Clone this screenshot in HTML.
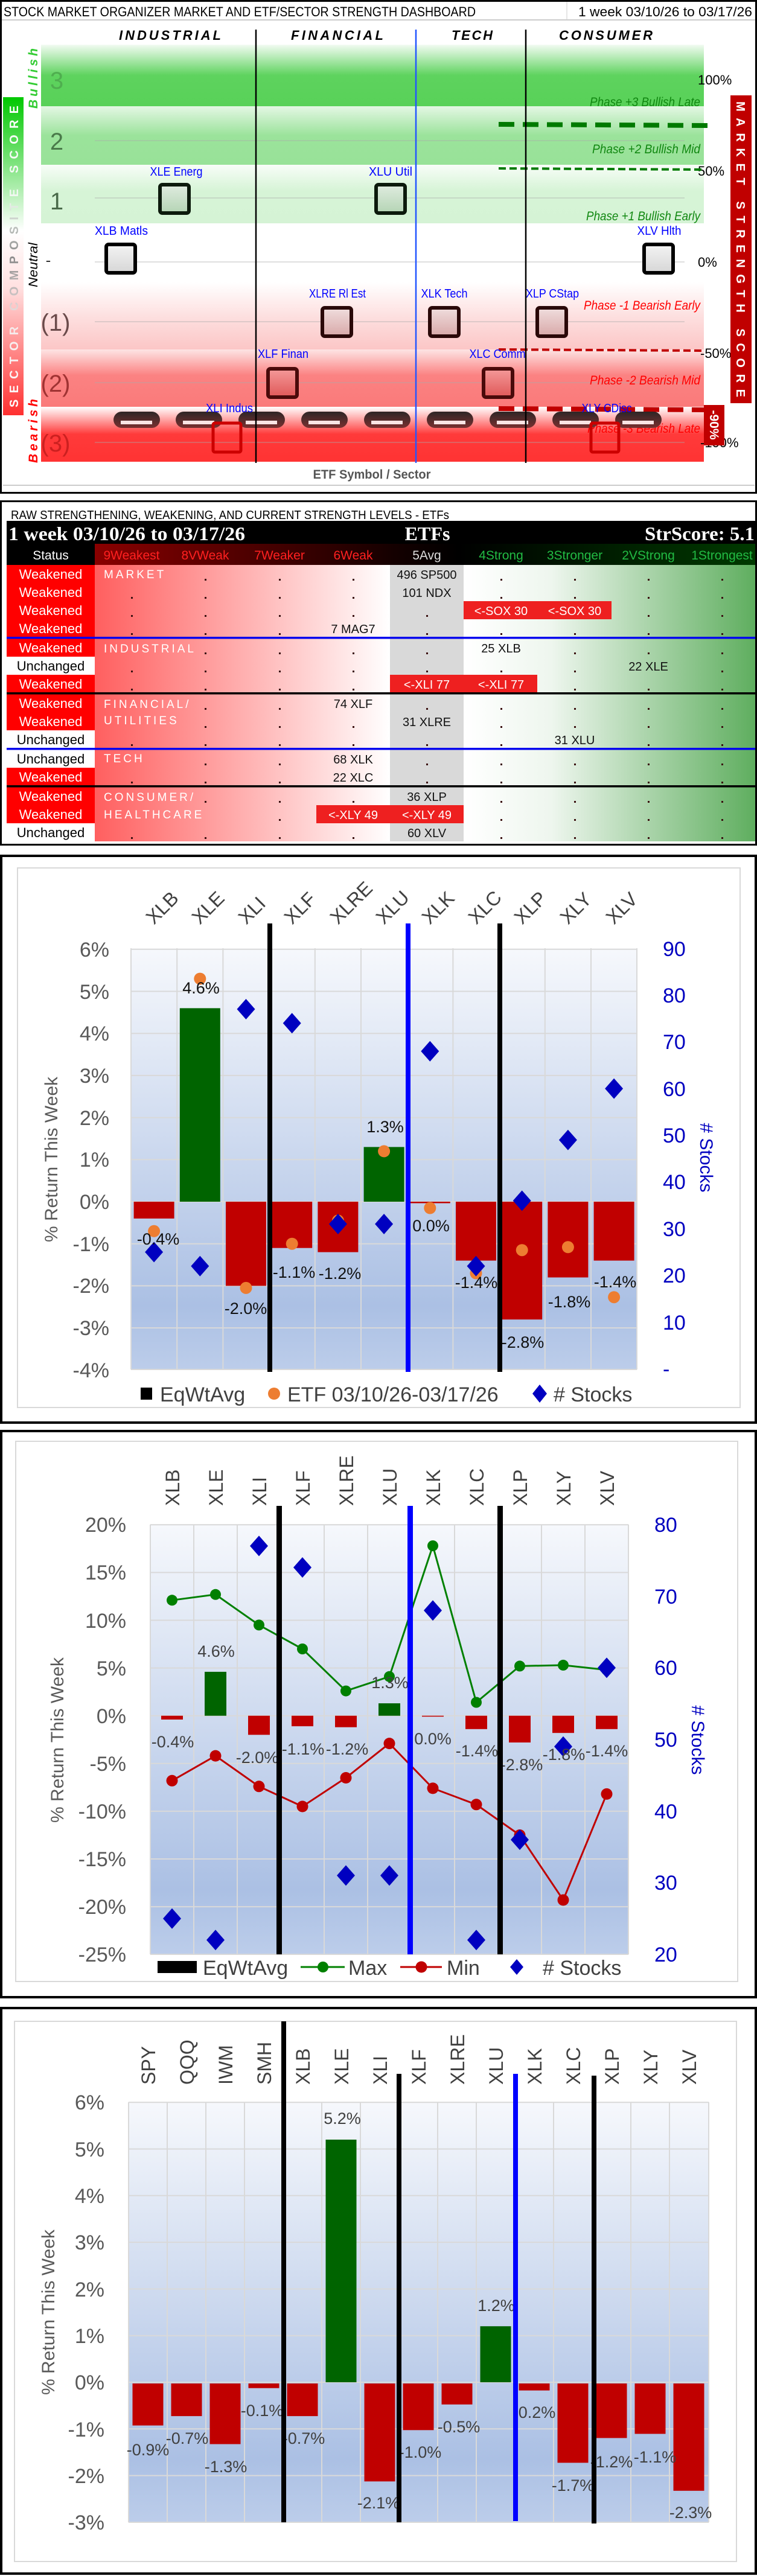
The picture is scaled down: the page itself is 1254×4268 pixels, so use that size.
<!DOCTYPE html>
<html><head><meta charset="utf-8"><style>
html,body{margin:0;padding:0;background:#fff;}
svg{display:block;font-family:"Liberation Sans",sans-serif;}
</style></head><body>
<svg width="1254" height="4268" viewBox="0 0 1254 4268" xmlns="http://www.w3.org/2000/svg">
<defs>
<linearGradient id="b3" x1="0" y1="0" x2="0" y2="1"><stop offset="0" stop-color="#f2fbf2"/><stop offset="0.5" stop-color="#5ed35e"/><stop offset="1" stop-color="#58d158"/></linearGradient>
<linearGradient id="b2" x1="0" y1="0" x2="0" y2="1"><stop offset="0" stop-color="#e4f7e4"/><stop offset="0.5" stop-color="#9be39b"/><stop offset="1" stop-color="#98e298"/></linearGradient>
<linearGradient id="b1" x1="0" y1="0" x2="0" y2="1"><stop offset="0" stop-color="#f8fdf8"/><stop offset="0.45" stop-color="#d6f4d6"/><stop offset="1" stop-color="#d5f3d5"/></linearGradient>
<linearGradient id="r1" x1="0" y1="0" x2="0" y2="1"><stop offset="0" stop-color="#ffffff"/><stop offset="0.5" stop-color="#fde0e0"/><stop offset="1" stop-color="#fcc6c6"/></linearGradient>
<linearGradient id="r2" x1="0" y1="0" x2="0" y2="1"><stop offset="0" stop-color="#fde4e4"/><stop offset="0.45" stop-color="#fb8282"/><stop offset="1" stop-color="#fa7a7a"/></linearGradient>
<linearGradient id="r3" x1="0" y1="0" x2="0" y2="1"><stop offset="0" stop-color="#ffffff"/><stop offset="0.5" stop-color="#ff3a3a"/><stop offset="1" stop-color="#ff3333"/></linearGradient>
<linearGradient id="lbar" x1="0" y1="0" x2="0" y2="1"><stop offset="0" stop-color="#00c800"/><stop offset="0.42" stop-color="#ffffff"/><stop offset="0.6" stop-color="#ffe0e0"/><stop offset="1" stop-color="#ff3030"/></linearGradient>
<linearGradient id="ltxt" gradientUnits="userSpaceOnUse" x1="-263" y1="0" x2="263" y2="0"><stop offset="0" stop-color="#ffffff"/><stop offset="0.3" stop-color="#f4e8e8"/><stop offset="0.5" stop-color="#8a8a8a"/><stop offset="0.68" stop-color="#f0f8f0"/><stop offset="1" stop-color="#ffffff"/></linearGradient>
<linearGradient id="bxg" x1="0" y1="0" x2="0" y2="1"><stop offset="0" stop-color="#e0ece0"/><stop offset="1" stop-color="#b4d4b4"/></linearGradient>
<linearGradient id="bxn" x1="0" y1="0" x2="0" y2="1"><stop offset="0" stop-color="#f4f4f4"/><stop offset="1" stop-color="#d6d6d6"/></linearGradient>
<linearGradient id="bxr" x1="0" y1="0" x2="0" y2="1"><stop offset="0" stop-color="#f0dede"/><stop offset="1" stop-color="#d8a8a8"/></linearGradient>
<linearGradient id="bxr2" x1="0" y1="0" x2="0" y2="1"><stop offset="0" stop-color="#f49a9a"/><stop offset="1" stop-color="#e05858"/></linearGradient>
<linearGradient id="pill" x1="0" y1="0" x2="0" y2="1"><stop offset="0" stop-color="#2e2626"/><stop offset="1" stop-color="#7a3030"/></linearGradient>
<linearGradient id="tred" x1="0" y1="0" x2="1" y2="0"><stop offset="0" stop-color="#ff5f5f"/><stop offset="1" stop-color="#ffffff"/></linearGradient>
<linearGradient id="tgrn" x1="0" y1="0" x2="1" y2="0"><stop offset="0" stop-color="#ffffff"/><stop offset="0.3" stop-color="#eef6ee"/><stop offset="1" stop-color="#5fae5f"/></linearGradient>
<linearGradient id="thd" x1="0" y1="0" x2="1" y2="0"><stop offset="0" stop-color="#8a0000"/><stop offset="0.45" stop-color="#150000"/><stop offset="0.55" stop-color="#000000"/><stop offset="1" stop-color="#003a00"/></linearGradient>
<linearGradient id="plot" x1="0" y1="0" x2="0" y2="1"><stop offset="0" stop-color="#f6f8fc"/><stop offset="0.85" stop-color="#abc0e4"/><stop offset="1" stop-color="#bccdea"/></linearGradient>
</defs>

<!-- ================= PANEL 1 ================= -->
<rect x="1.5" y="1.5" width="1251" height="815" fill="#fff" stroke="#000" stroke-width="3"/>
<line x1="3" y1="33" x2="1251" y2="33" stroke="#bbb" stroke-width="1.5"/>
<line x1="939" y1="3" x2="939" y2="33" stroke="#ccc"/>
<text x="6" y="27" font-size="22" textLength="782" lengthAdjust="spacingAndGlyphs" fill="#000">STOCK MARKET ORGANIZER MARKET AND ETF/SECTOR STRENGTH DASHBOARD</text>
<text x="958" y="27" font-size="22" textLength="288" lengthAdjust="spacingAndGlyphs" fill="#000">1 week 03/10/26 to 03/17/26</text>

<rect x="68" y="74" width="1098" height="102" fill="url(#b3)"/>
<rect x="68" y="176" width="1098" height="97" fill="url(#b2)"/>
<rect x="68" y="273" width="1098" height="97" fill="url(#b1)"/>
<rect x="68" y="468" width="1098" height="111" fill="url(#r1)"/>
<rect x="68" y="579" width="1098" height="95" fill="url(#r2)"/>
<rect x="68" y="674" width="1098" height="91" fill="url(#r3)"/>
<g stroke="#aaa" stroke-width="1.2" opacity="0.6">
<line x1="157" y1="233" x2="1134" y2="233"/><line x1="157" y1="328" x2="1134" y2="328"/><line x1="157" y1="434" x2="1134" y2="434"/><line x1="157" y1="533" x2="1134" y2="533"/><line x1="157" y1="634" x2="1134" y2="634"/><line x1="157" y1="733" x2="1134" y2="733"/>
</g>
<g font-size="40" text-anchor="middle">
<text x="94" y="147" fill="#4fae4f">3</text>
<text x="94" y="248" fill="#4a7a4a">2</text>
<text x="94" y="347" fill="#4a6a4a">1</text>
<text x="80" y="440" fill="#333" font-size="26">-</text>
<text x="92" y="548" fill="#6a4a4a">(1)</text>
<text x="92" y="649" fill="#a03333">(2)</text>
<text x="92" y="748" fill="#cc2020">(3)</text>
</g>
<g font-size="22" fill="#000">
<text x="1156" y="140">100%</text><text x="1156" y="291">50%</text><text x="1156" y="442">0%</text><text x="1160" y="593">-50%</text><text x="1160" y="741">-100%</text>
</g>
<g font-size="21" font-style="italic" text-anchor="end">
<text x="1160" y="176" fill="#118811" textLength="183" lengthAdjust="spacingAndGlyphs">Phase +3 Bullish Late</text>
<text x="1160" y="254" fill="#118811" textLength="179" lengthAdjust="spacingAndGlyphs">Phase +2 Bullish Mid</text>
<text x="1160" y="365" fill="#118811" textLength="189" lengthAdjust="spacingAndGlyphs">Phase +1 Bullish Early</text>
<text x="1160" y="513" fill="#ff0000" textLength="193" lengthAdjust="spacingAndGlyphs">Phase -1 Bearish Early</text>
<text x="1160" y="637" fill="#ff0000" textLength="183" lengthAdjust="spacingAndGlyphs">Phase -2 Bearish Mid</text>
<text x="1160" y="717" fill="#ff0000" textLength="187" lengthAdjust="spacingAndGlyphs">Phase -3 Bearish Late</text>
</g>
<line x1="826" y1="206" x2="1176" y2="208" stroke="#007a00" stroke-width="8" stroke-dasharray="26 14"/>
<line x1="826" y1="279" x2="1166" y2="281" stroke="#007a00" stroke-width="4" stroke-dasharray="12 6"/>
<line x1="826" y1="579" x2="1166" y2="581" stroke="#c00000" stroke-width="4" stroke-dasharray="12 6"/>
<line x1="826" y1="677" x2="1166" y2="679" stroke="#c00000" stroke-width="8" stroke-dasharray="26 14"/>

<g font-size="22" font-weight="bold" font-style="italic" fill="#000">
<text x="197" y="66" textLength="169" lengthAdjust="spacing">INDUSTRIAL</text>
<text x="482" y="66" textLength="153" lengthAdjust="spacing">FINANCIAL</text>
<text x="748" y="66" textLength="68" lengthAdjust="spacing">TECH</text>
<text x="926" y="66" textLength="155" lengthAdjust="spacing">CONSUMER</text>
</g>

<g>
<rect x="188" y="682" width="77" height="27" rx="13.5" fill="url(#pill)"/><rect x="200" y="697" width="52" height="6" fill="#fbe4e4"/>
<rect x="291" y="682" width="77" height="27" rx="13.5" fill="url(#pill)"/><rect x="303" y="697" width="52" height="6" fill="#fbe4e4"/>
<rect x="395" y="682" width="77" height="27" rx="13.5" fill="url(#pill)"/><rect x="407" y="697" width="52" height="6" fill="#fbe4e4"/>
<rect x="499" y="682" width="77" height="27" rx="13.5" fill="url(#pill)"/><rect x="511" y="697" width="52" height="6" fill="#fbe4e4"/>
<rect x="603" y="682" width="77" height="27" rx="13.5" fill="url(#pill)"/><rect x="615" y="697" width="52" height="6" fill="#fbe4e4"/>
<rect x="707" y="682" width="77" height="27" rx="13.5" fill="url(#pill)"/><rect x="719" y="697" width="52" height="6" fill="#fbe4e4"/>
<rect x="811" y="682" width="77" height="27" rx="13.5" fill="url(#pill)"/><rect x="823" y="697" width="52" height="6" fill="#fbe4e4"/>
<rect x="915" y="682" width="77" height="27" rx="13.5" fill="url(#pill)"/><rect x="927" y="697" width="52" height="6" fill="#fbe4e4"/>
<rect x="1019" y="682" width="77" height="27" rx="13.5" fill="url(#pill)"/><rect x="1031" y="697" width="52" height="6" fill="#fbe4e4"/>
</g>

<g stroke-width="6">
<rect x="265" y="306" width="48" height="47" rx="4" fill="url(#bxg)" stroke="#0c1a0c"/>
<rect x="623" y="306" width="48" height="47" rx="4" fill="url(#bxg)" stroke="#0c1a0c"/>
<rect x="176" y="405" width="48" height="47" rx="4" fill="url(#bxn)" stroke="#000"/>
<rect x="1067" y="405" width="48" height="47" rx="4" fill="url(#bxn)" stroke="#000"/>
<rect x="534" y="510" width="48" height="47" rx="4" fill="url(#bxr)" stroke="#2a0808"/>
<rect x="712" y="510" width="48" height="47" rx="4" fill="url(#bxr)" stroke="#2a0808"/>
<rect x="890" y="510" width="48" height="47" rx="4" fill="url(#bxr)" stroke="#2a0808"/>
<rect x="444" y="611" width="48" height="47" rx="4" fill="url(#bxr2)" stroke="#4a0a0a"/>
<rect x="801" y="611" width="48" height="47" rx="4" fill="url(#bxr2)" stroke="#4a0a0a"/>
<rect x="353" y="701" width="46" height="48" rx="3" fill="none" stroke="#cc0000" stroke-width="5"/>
<rect x="979" y="701" width="46" height="48" rx="3" fill="none" stroke="#cc0000" stroke-width="5"/>
</g>
<g font-size="20" fill="#0000ff" text-anchor="middle">
<text x="292" y="291" textLength="87" lengthAdjust="spacingAndGlyphs">XLE Energ</text>
<text x="647" y="291" textLength="72" lengthAdjust="spacingAndGlyphs">XLU Util</text>
<text x="201" y="389" textLength="88" lengthAdjust="spacingAndGlyphs">XLB Matls</text>
<text x="1092" y="389" textLength="73" lengthAdjust="spacingAndGlyphs">XLV Hlth</text>
<text x="559" y="493" textLength="94" lengthAdjust="spacingAndGlyphs">XLRE Rl Est</text>
<text x="736" y="493" textLength="77" lengthAdjust="spacingAndGlyphs">XLK Tech</text>
<text x="915" y="493" textLength="88" lengthAdjust="spacingAndGlyphs">XLP CStap</text>
<text x="469" y="593" textLength="84" lengthAdjust="spacingAndGlyphs">XLF Finan</text>
<text x="824" y="593" textLength="93" lengthAdjust="spacingAndGlyphs">XLC Comm</text>
<text x="380" y="683" textLength="78" lengthAdjust="spacingAndGlyphs">XLI Indus</text>
<text x="1005" y="683" textLength="83" lengthAdjust="spacingAndGlyphs">XLY CDisc</text>
</g>
<line x1="424" y1="49" x2="424" y2="767" stroke="#000" stroke-width="2.5"/>
<line x1="689" y1="49" x2="689" y2="767" stroke="#2255ff" stroke-width="2.5"/>
<line x1="871" y1="49" x2="871" y2="767" stroke="#000" stroke-width="2.5"/>

<rect x="5" y="161" width="34" height="527" fill="url(#lbar)"/>
<text transform="translate(30,425) rotate(-90)" text-anchor="middle" font-size="20" font-weight="bold" fill="url(#ltxt)" textLength="500" lengthAdjust="spacing">SECTOR COMPOSITE SCORE</text>
<text transform="translate(62,130) rotate(-90)" text-anchor="middle" font-size="21" font-weight="bold" font-style="italic" fill="#33cc33" textLength="100" lengthAdjust="spacing">Bullish</text>
<text transform="translate(62,439) rotate(-90)" text-anchor="middle" font-size="21" font-style="italic" fill="#000" textLength="74" lengthAdjust="spacingAndGlyphs">Neutral</text>
<text transform="translate(62,714) rotate(-90)" text-anchor="middle" font-size="21" font-weight="bold" font-style="italic" fill="#ff0000" textLength="106" lengthAdjust="spacing">Bearish</text>
<rect x="1210" y="158" width="35" height="510" fill="#c00000"/>
<text transform="translate(1220,413) rotate(90)" text-anchor="middle" font-size="20" font-weight="bold" fill="#fff" textLength="490" lengthAdjust="spacing">MARKET STRENGTH SCORE</text>
<rect x="1166" y="671" width="34" height="67" fill="#c00000"/>
<text transform="translate(1176,704) rotate(90)" text-anchor="middle" font-size="21" font-weight="bold" fill="#fff">-90%</text>
<text x="616" y="793" text-anchor="middle" font-size="21" font-weight="bold" fill="#555" textLength="195" lengthAdjust="spacingAndGlyphs">ETF Symbol / Sector</text>
<line x1="5" y1="804" x2="1250" y2="804" stroke="#ccc" stroke-width="2"/>

<!-- ================= PANEL 2 ================= -->
<rect x="1.5" y="830.5" width="1251" height="569" fill="#fff" stroke="#000" stroke-width="3"/>
<text x="18" y="860" font-size="20" textLength="726" lengthAdjust="spacingAndGlyphs" fill="#000">RAW STRENGTHENING, WEAKENING, AND CURRENT STRENGTH LEVELS - ETFs</text>
<rect x="11" y="863" width="1240" height="73" fill="#000"/>
<rect x="157" y="901" width="1094" height="35" fill="url(#thd)"/>
<g font-family="Liberation Serif,serif" font-weight="bold" font-size="32" fill="#fff">
<text x="14" y="895" textLength="392" lengthAdjust="spacingAndGlyphs">1 week 03/10/26 to 03/17/26</text>
<text x="708" y="895" text-anchor="middle" textLength="75" lengthAdjust="spacingAndGlyphs">ETFs</text>
<text x="1250" y="895" text-anchor="end" textLength="182" lengthAdjust="spacingAndGlyphs">StrScore: 5.1</text>
</g>
<g font-size="21" text-anchor="middle">
<text x="84" y="927" fill="#fff">Status</text>
<text x="218" y="927" fill="#ff2020">9Weakest</text>
<text x="340" y="927" fill="#ff2020">8VWeak</text>
<text x="463" y="927" fill="#ff2020">7Weaker</text>
<text x="585" y="927" fill="#ff2020">6Weak</text>
<text x="707" y="927" fill="#ddd">5Avg</text>
<text x="830" y="927" fill="#22bb44">4Strong</text>
<text x="952" y="927" fill="#22bb44">3Stronger</text>
<text x="1074" y="927" fill="#22bb44">2VStrong</text>
<text x="1196" y="927" fill="#22bb44">1Strongest</text>
</g>
<rect x="157" y="936" width="489" height="458" fill="url(#tred)"/>
<rect x="646" y="936" width="122" height="458" fill="#d9d9d9"/>
<rect x="768" y="936" width="483" height="458" fill="url(#tgrn)"/>
<g>
<rect x="11" y="936" width="146" height="30" fill="#ff0000"/>
<rect x="11" y="966" width="146" height="30" fill="#ff0000"/>
<rect x="11" y="996" width="146" height="30" fill="#ff0000"/>
<rect x="11" y="1026" width="146" height="30" fill="#ff0000"/>
<rect x="11" y="1058" width="146" height="30" fill="#ff0000"/>
<rect x="11" y="1118" width="146" height="30" fill="#ff0000"/>
<rect x="11" y="1150" width="146" height="30" fill="#ff0000"/>
<rect x="11" y="1180" width="146" height="30" fill="#ff0000"/>
<rect x="11" y="1272" width="146" height="30" fill="#ff0000"/>
<rect x="11" y="1304" width="146" height="30" fill="#ff0000"/>
<rect x="11" y="1334" width="146" height="30" fill="#ff0000"/>
</g>
<g font-size="22" text-anchor="middle">
<text x="84" y="959" fill="#fff">Weakened</text>
<text x="84" y="989" fill="#fff">Weakened</text>
<text x="84" y="1019" fill="#fff">Weakened</text>
<text x="84" y="1049" fill="#fff">Weakened</text>
<text x="84" y="1081" fill="#fff">Weakened</text>
<text x="84" y="1111" fill="#000">Unchanged</text>
<text x="84" y="1141" fill="#fff">Weakened</text>
<text x="84" y="1173" fill="#fff">Weakened</text>
<text x="84" y="1203" fill="#fff">Weakened</text>
<text x="84" y="1233" fill="#000">Unchanged</text>
<text x="84" y="1265" fill="#000">Unchanged</text>
<text x="84" y="1295" fill="#fff">Weakened</text>
<text x="84" y="1327" fill="#fff">Weakened</text>
<text x="84" y="1357" fill="#fff">Weakened</text>
<text x="84" y="1387" fill="#000">Unchanged</text>
</g>
<rect x="768" y="996" width="245" height="30" fill="#ee2020"/>
<rect x="646" y="1118" width="244" height="30" fill="#ee2020"/>
<rect x="524" y="1334" width="244" height="30" fill="#ee2020"/>
<g fill="#3a1010">
<rect x="339" y="959" width="3" height="3"/><rect x="462" y="959" width="3" height="3"/><rect x="584" y="959" width="3" height="3"/><rect x="829" y="959" width="3" height="3"/><rect x="951" y="959" width="3" height="3"/><rect x="1073" y="959" width="3" height="3"/><rect x="1195" y="959" width="3" height="3"/>
<rect x="217" y="989" width="3" height="3"/><rect x="339" y="989" width="3" height="3"/><rect x="462" y="989" width="3" height="3"/><rect x="584" y="989" width="3" height="3"/><rect x="829" y="989" width="3" height="3"/><rect x="951" y="989" width="3" height="3"/><rect x="1073" y="989" width="3" height="3"/><rect x="1195" y="989" width="3" height="3"/>
<rect x="217" y="1019" width="3" height="3"/><rect x="339" y="1019" width="3" height="3"/><rect x="462" y="1019" width="3" height="3"/><rect x="584" y="1019" width="3" height="3"/><rect x="706" y="1019" width="3" height="3"/><rect x="1073" y="1019" width="3" height="3"/><rect x="1195" y="1019" width="3" height="3"/>
<rect x="217" y="1049" width="3" height="3"/><rect x="339" y="1049" width="3" height="3"/><rect x="462" y="1049" width="3" height="3"/><rect x="706" y="1049" width="3" height="3"/><rect x="829" y="1049" width="3" height="3"/><rect x="951" y="1049" width="3" height="3"/><rect x="1073" y="1049" width="3" height="3"/><rect x="1195" y="1049" width="3" height="3"/>
<rect x="339" y="1081" width="3" height="3"/><rect x="462" y="1081" width="3" height="3"/><rect x="584" y="1081" width="3" height="3"/><rect x="706" y="1081" width="3" height="3"/><rect x="951" y="1081" width="3" height="3"/><rect x="1073" y="1081" width="3" height="3"/><rect x="1195" y="1081" width="3" height="3"/>
<rect x="217" y="1111" width="3" height="3"/><rect x="339" y="1111" width="3" height="3"/><rect x="462" y="1111" width="3" height="3"/><rect x="584" y="1111" width="3" height="3"/><rect x="706" y="1111" width="3" height="3"/><rect x="829" y="1111" width="3" height="3"/><rect x="951" y="1111" width="3" height="3"/><rect x="1195" y="1111" width="3" height="3"/>
<rect x="217" y="1141" width="3" height="3"/><rect x="339" y="1141" width="3" height="3"/><rect x="462" y="1141" width="3" height="3"/><rect x="584" y="1141" width="3" height="3"/><rect x="951" y="1141" width="3" height="3"/><rect x="1073" y="1141" width="3" height="3"/><rect x="1195" y="1141" width="3" height="3"/>
<rect x="339" y="1173" width="3" height="3"/><rect x="462" y="1173" width="3" height="3"/><rect x="706" y="1173" width="3" height="3"/><rect x="829" y="1173" width="3" height="3"/><rect x="951" y="1173" width="3" height="3"/><rect x="1073" y="1173" width="3" height="3"/><rect x="1195" y="1173" width="3" height="3"/>
<rect x="339" y="1203" width="3" height="3"/><rect x="462" y="1203" width="3" height="3"/><rect x="584" y="1203" width="3" height="3"/><rect x="829" y="1203" width="3" height="3"/><rect x="951" y="1203" width="3" height="3"/><rect x="1073" y="1203" width="3" height="3"/><rect x="1195" y="1203" width="3" height="3"/>
<rect x="217" y="1233" width="3" height="3"/><rect x="339" y="1233" width="3" height="3"/><rect x="462" y="1233" width="3" height="3"/><rect x="584" y="1233" width="3" height="3"/><rect x="706" y="1233" width="3" height="3"/><rect x="829" y="1233" width="3" height="3"/><rect x="1073" y="1233" width="3" height="3"/><rect x="1195" y="1233" width="3" height="3"/>
<rect x="339" y="1265" width="3" height="3"/><rect x="462" y="1265" width="3" height="3"/><rect x="706" y="1265" width="3" height="3"/><rect x="829" y="1265" width="3" height="3"/><rect x="951" y="1265" width="3" height="3"/><rect x="1073" y="1265" width="3" height="3"/><rect x="1195" y="1265" width="3" height="3"/>
<rect x="217" y="1295" width="3" height="3"/><rect x="339" y="1295" width="3" height="3"/><rect x="462" y="1295" width="3" height="3"/><rect x="706" y="1295" width="3" height="3"/><rect x="829" y="1295" width="3" height="3"/><rect x="951" y="1295" width="3" height="3"/><rect x="1073" y="1295" width="3" height="3"/><rect x="1195" y="1295" width="3" height="3"/>
<rect x="339" y="1327" width="3" height="3"/><rect x="462" y="1327" width="3" height="3"/><rect x="584" y="1327" width="3" height="3"/><rect x="829" y="1327" width="3" height="3"/><rect x="951" y="1327" width="3" height="3"/><rect x="1073" y="1327" width="3" height="3"/><rect x="1195" y="1327" width="3" height="3"/>
<rect x="462" y="1357" width="3" height="3"/><rect x="829" y="1357" width="3" height="3"/><rect x="951" y="1357" width="3" height="3"/><rect x="1073" y="1357" width="3" height="3"/><rect x="1195" y="1357" width="3" height="3"/>
<rect x="217" y="1387" width="3" height="3"/><rect x="339" y="1387" width="3" height="3"/><rect x="462" y="1387" width="3" height="3"/><rect x="584" y="1387" width="3" height="3"/><rect x="829" y="1387" width="3" height="3"/><rect x="951" y="1387" width="3" height="3"/><rect x="1073" y="1387" width="3" height="3"/><rect x="1195" y="1387" width="3" height="3"/>
</g>
<g font-size="20" text-anchor="middle" fill="#111">
<text x="707" y="959">496 SP500</text>
<text x="707" y="989">101 NDX</text>
<text x="585" y="1049">7 MAG7</text>
<text x="830" y="1081">25 XLB</text>
<text x="1074" y="1111">22 XLE</text>
<text x="585" y="1173">74 XLF</text>
<text x="707" y="1203">31 XLRE</text>
<text x="952" y="1233">31 XLU</text>
<text x="585" y="1265">68 XLK</text>
<text x="585" y="1295">22 XLC</text>
<text x="707" y="1327">36 XLP</text>
<text x="707" y="1387">60 XLV</text>
</g>
<g font-size="20" text-anchor="middle" fill="#fff">
<text x="830" y="1019">&lt;-SOX 30</text><text x="952" y="1019">&lt;-SOX 30</text>
<text x="707" y="1141">&lt;-XLI 77</text><text x="830" y="1141">&lt;-XLI 77</text>
<text x="585" y="1357">&lt;-XLY 49</text><text x="707" y="1357">&lt;-XLY 49</text>
</g>
<g font-size="19" fill="#fff" letter-spacing="4">
<text x="172" y="958">MARKET</text>
<text x="172" y="1081">INDUSTRIAL</text>
<text x="172" y="1173">FINANCIAL/</text>
<text x="172" y="1200">UTILITIES</text>
<text x="172" y="1263">TECH</text>
<text x="172" y="1327">CONSUMER/</text>
<text x="172" y="1356">HEALTHCARE</text>
</g>
<rect x="11" y="1055" width="1240" height="3.5" fill="#0000ee"/>
<rect x="11" y="1147" width="1240" height="3.5" fill="#000"/>
<rect x="11" y="1239" width="1240" height="3.5" fill="#0000ee"/>
<rect x="11" y="1301" width="1240" height="3.5" fill="#000"/>

<!-- ================= PANEL 3 ================= -->
<rect x="2" y="1418" width="1250" height="939" fill="#fff" stroke="#000" stroke-width="4"/>
<rect x="29" y="1438" width="1197" height="894" fill="#fff" stroke="#d9d9d9" stroke-width="2"/>
<rect x="217" y="1571.5" width="838" height="697" fill="url(#plot)"/>
<g stroke="#d9d9d9" stroke-width="2">
<line x1="217" y1="1572.8" x2="1055" y2="1572.8"/><line x1="217" y1="1642.5" x2="1055" y2="1642.5"/><line x1="217" y1="1712.2" x2="1055" y2="1712.2"/><line x1="217" y1="1781.9" x2="1055" y2="1781.9"/><line x1="217" y1="1851.6" x2="1055" y2="1851.6"/><line x1="217" y1="1921.3" x2="1055" y2="1921.3"/><line x1="217" y1="1991" x2="1055" y2="1991"/><line x1="217" y1="2060.7" x2="1055" y2="2060.7"/><line x1="217" y1="2130.4" x2="1055" y2="2130.4"/><line x1="217" y1="2200.1" x2="1055" y2="2200.1"/><line x1="217" y1="2269" x2="1055" y2="2269"/>
<line x1="217" y1="1571" x2="217" y2="2269"/><line x1="293.2" y1="1571" x2="293.2" y2="2269"/><line x1="369.4" y1="1571" x2="369.4" y2="2269"/><line x1="445.6" y1="1571" x2="445.6" y2="2269"/><line x1="521.8" y1="1571" x2="521.8" y2="2269"/><line x1="598" y1="1571" x2="598" y2="2269"/><line x1="674.2" y1="1571" x2="674.2" y2="2269"/><line x1="750.4" y1="1571" x2="750.4" y2="2269"/><line x1="826.6" y1="1571" x2="826.6" y2="2269"/><line x1="902.8" y1="1571" x2="902.8" y2="2269"/><line x1="979" y1="1571" x2="979" y2="2269"/><line x1="1055" y1="1571" x2="1055" y2="2269"/>
</g>
<g fill="#c00000">
<rect x="221.6" y="1991" width="67" height="27.9"/><rect x="374" y="1991" width="67" height="139.4"/><rect x="450.2" y="1991" width="67" height="76.7"/><rect x="526.4" y="1991" width="67" height="83.6"/><rect x="678.8" y="1991" width="67" height="2.5"/><rect x="755" y="1991" width="67" height="97.6"/><rect x="831.2" y="1991" width="67" height="195.2"/><rect x="907.4" y="1991" width="67" height="125.5"/><rect x="983.6" y="1991" width="67" height="97.6"/>
</g>
<g fill="#006400"><rect x="297.8" y="1670.4" width="67" height="320.6"/><rect x="602.6" y="1900.4" width="67" height="90.6"/></g>
<g fill="#ed7d31">
<circle cx="255.1" cy="2039.8" r="10"/><circle cx="331.3" cy="1621.6" r="10"/><circle cx="407.5" cy="2133.9" r="10"/><circle cx="483.7" cy="2060.7" r="10"/><circle cx="559.9" cy="2022.4" r="10"/><circle cx="636.1" cy="1907.4" r="10"/><circle cx="712.3" cy="2001.5" r="10"/><circle cx="788.5" cy="2109.5" r="10"/><circle cx="864.7" cy="2071.2" r="10"/><circle cx="940.9" cy="2066.3" r="10"/><circle cx="1017.1" cy="2149.2" r="10"/>
</g>
<g fill="#0000c0">
<path d="M255.1 2057.5 l15 17 l-15 17 l-15 -17z"/><path d="M331.3 2080.7 l15 17 l-15 17 l-15 -17z"/><path d="M407.5 1655 l15 17 l-15 17 l-15 -17z"/><path d="M483.7 1678.2 l15 17 l-15 17 l-15 -17z"/><path d="M559.9 2011 l15 17 l-15 17 l-15 -17z"/><path d="M636.1 2011 l15 17 l-15 17 l-15 -17z"/><path d="M712.3 1724.7 l15 17 l-15 17 l-15 -17z"/><path d="M788.5 2080.7 l15 17 l-15 17 l-15 -17z"/><path d="M864.7 1972.4 l15 17 l-15 17 l-15 -17z"/><path d="M940.9 1871.7 l15 17 l-15 17 l-15 -17z"/><path d="M1017.1 1786.6 l15 17 l-15 17 l-15 -17z"/>
</g>
<g font-size="27" text-anchor="middle" fill="#111">
<text x="262" y="2062">-0.4%</text><text x="333" y="1646">4.6%</text><text x="407" y="2177">-2.0%</text><text x="487" y="2117">-1.1%</text><text x="563" y="2119">-1.2%</text><text x="638" y="1876">1.3%</text><text x="714" y="2040">0.0%</text><text x="789" y="2134">-1.4%</text><text x="866" y="2233">-2.8%</text><text x="943" y="2166">-1.8%</text><text x="1019" y="2133">-1.4%</text>
</g>
<rect x="443" y="1530" width="8" height="743" fill="#000"/>
<rect x="672" y="1530" width="8" height="743" fill="#0000ff"/>
<rect x="824" y="1530" width="8" height="743" fill="#000"/>
<g font-size="34" text-anchor="end" fill="#595959">
<text x="181" y="1585">6%</text><text x="181" y="1655">5%</text><text x="181" y="1724">4%</text><text x="181" y="1794">3%</text><text x="181" y="1864">2%</text><text x="181" y="1933">1%</text><text x="181" y="2003">0%</text><text x="181" y="2073">-1%</text><text x="181" y="2142">-2%</text><text x="181" y="2212">-3%</text><text x="181" y="2282">-4%</text>
</g>
<g font-size="34" fill="#0000c0">
<text x="1098" y="1584">90</text><text x="1098" y="1661">80</text><text x="1098" y="1738">70</text><text x="1098" y="1816">60</text><text x="1098" y="1893">50</text><text x="1098" y="1970">40</text><text x="1098" y="2048">30</text><text x="1098" y="2125">20</text><text x="1098" y="2203">10</text><text x="1098" y="2280">-</text>
</g>
<g font-size="32" fill="#404040">
<text transform="translate(255,1533) rotate(-45)">XLB</text><text transform="translate(331,1533) rotate(-45)">XLE</text><text transform="translate(408,1533) rotate(-45)">XLI</text><text transform="translate(484,1533) rotate(-45)">XLF</text><text transform="translate(560,1533) rotate(-45)">XLRE</text><text transform="translate(636,1533) rotate(-45)">XLU</text><text transform="translate(712,1533) rotate(-45)">XLK</text><text transform="translate(789,1533) rotate(-45)">XLC</text><text transform="translate(865,1533) rotate(-45)">XLP</text><text transform="translate(941,1533) rotate(-45)">XLY</text><text transform="translate(1017,1533) rotate(-45)">XLV</text>
</g>
<text transform="translate(95,1921) rotate(-90)" text-anchor="middle" font-size="30" fill="#595959">% Return This Week</text>
<text transform="translate(1160,1918) rotate(90)" text-anchor="middle" font-size="30" fill="#0000c0"># Stocks</text>
<g font-size="34" fill="#404040">
<rect x="233" y="2299" width="19" height="20" fill="#000"/><text x="265" y="2322">EqWtAvg</text>
<circle cx="454" cy="2309" r="10" fill="#ed7d31"/><text x="476" y="2322">ETF 03/10/26-03/17/26</text>
<path d="M894 2294 l12 15 l-12 15 l-12 -15z" fill="#0000c0"/><text x="917" y="2322"># Stocks</text>
</g>

<!-- ================= PANEL 4 ================= -->
<rect x="2" y="2371" width="1250" height="938" fill="#fff" stroke="#000" stroke-width="4"/>
<rect x="26" y="2388" width="1196" height="895" fill="#fff" stroke="#d9d9d9" stroke-width="2"/>
<rect x="249" y="2526" width="792" height="712" fill="url(#plot)"/>
<g stroke="#d9d9d9" stroke-width="2">
<line x1="249" y1="2526.3" x2="1041" y2="2526.3"/><line x1="249" y1="2605.4" x2="1041" y2="2605.4"/><line x1="249" y1="2684.5" x2="1041" y2="2684.5"/><line x1="249" y1="2763.6" x2="1041" y2="2763.6"/><line x1="249" y1="2842.7" x2="1041" y2="2842.7"/><line x1="249" y1="2921.8" x2="1041" y2="2921.8"/><line x1="249" y1="3000.9" x2="1041" y2="3000.9"/><line x1="249" y1="3080" x2="1041" y2="3080"/><line x1="249" y1="3159.1" x2="1041" y2="3159.1"/><line x1="249" y1="3238" x2="1041" y2="3238"/>
<line x1="249" y1="2526" x2="249" y2="3238"/><line x1="321" y1="2526" x2="321" y2="3238"/><line x1="393" y1="2526" x2="393" y2="3238"/><line x1="465" y1="2526" x2="465" y2="3238"/><line x1="537" y1="2526" x2="537" y2="3238"/><line x1="609" y1="2526" x2="609" y2="3238"/><line x1="681" y1="2526" x2="681" y2="3238"/><line x1="753" y1="2526" x2="753" y2="3238"/><line x1="825" y1="2526" x2="825" y2="3238"/><line x1="897" y1="2526" x2="897" y2="3238"/><line x1="969" y1="2526" x2="969" y2="3238"/><line x1="1041" y1="2526" x2="1041" y2="3238"/>
</g>
<g fill="#c00000">
<rect x="267" y="2842.7" width="36" height="6.3"/><rect x="411" y="2842.7" width="36" height="31.6"/><rect x="483" y="2842.7" width="36" height="17.4"/><rect x="555" y="2842.7" width="36" height="19"/><rect x="699" y="2842.7" width="36" height="1.5"/><rect x="771" y="2842.7" width="36" height="22.1"/><rect x="843" y="2842.7" width="36" height="44.3"/><rect x="915" y="2842.7" width="36" height="28.5"/><rect x="987" y="2842.7" width="36" height="22.1"/>
</g>
<g fill="#006400"><rect x="339" y="2769.9" width="36" height="72.8"/><rect x="627" y="2822.1" width="36" height="20.6"/></g>
<polyline points="285,2651.3 357,2641.8 429,2692.4 501,2732 573,2801.6 645,2777.8 717,2561.1 789,2820.5 861,2760.4 933,2758.9 1005,2766.8" fill="none" stroke="#008000" stroke-width="3"/>
<g fill="#008000"><circle cx="285" cy="2651.3" r="9"/><circle cx="357" cy="2641.8" r="9"/><circle cx="429" cy="2692.4" r="9"/><circle cx="501" cy="2732" r="9"/><circle cx="573" cy="2801.6" r="9"/><circle cx="645" cy="2777.8" r="9"/><circle cx="717" cy="2561.1" r="9"/><circle cx="789" cy="2820.5" r="9"/><circle cx="861" cy="2760.4" r="9"/><circle cx="933" cy="2758.9" r="9"/><circle cx="1005" cy="2766.8" r="9"/></g>
<polyline points="285,2950.3 357,2909.1 429,2959.8 501,2993 573,2945.5 645,2888.6 717,2962.9 789,2989.8 861,3040.5 933,3148 1005,2972.4" fill="none" stroke="#c00000" stroke-width="3"/>
<g fill="#c00000"><circle cx="285" cy="2950.3" r="9.5"/><circle cx="357" cy="2909.1" r="9.5"/><circle cx="429" cy="2959.8" r="9.5"/><circle cx="501" cy="2993" r="9.5"/><circle cx="573" cy="2945.5" r="9.5"/><circle cx="645" cy="2888.6" r="9.5"/><circle cx="717" cy="2962.9" r="9.5"/><circle cx="789" cy="2989.8" r="9.5"/><circle cx="861" cy="3040.5" r="9.5"/><circle cx="933" cy="3148" r="9.5"/><circle cx="1005" cy="2972.4" r="9.5"/></g>
<g fill="#0000c0">
<path d="M285 3161.7 l15 17 l-15 17 l-15 -17z"/><path d="M357 3197.3 l15 17 l-15 17 l-15 -17z"/><path d="M429 2544.4 l15 17 l-15 17 l-15 -17z"/><path d="M501 2580 l15 17 l-15 17 l-15 -17z"/><path d="M573 3090.4 l15 17 l-15 17 l-15 -17z"/><path d="M645 3090.4 l15 17 l-15 17 l-15 -17z"/><path d="M717 2651.2 l15 17 l-15 17 l-15 -17z"/><path d="M789 3197.3 l15 17 l-15 17 l-15 -17z"/><path d="M861 3031.1 l15 17 l-15 17 l-15 -17z"/><path d="M933 2876.8 l15 17 l-15 17 l-15 -17z"/><path d="M1005 2746.2 l15 17 l-15 17 l-15 -17z"/>
</g>
<g font-size="27" text-anchor="middle" fill="#404040">
<text x="286" y="2895">-0.4%</text><text x="358" y="2745">4.6%</text><text x="426" y="2921">-2.0%</text><text x="502" y="2907">-1.1%</text><text x="575" y="2907">-1.2%</text><text x="646" y="2797">1.3%</text><text x="717" y="2890">0.0%</text><text x="790" y="2910">-1.4%</text><text x="864" y="2933">-2.8%</text><text x="934" y="2916">-1.8%</text><text x="1005" y="2910">-1.4%</text>
</g>
<rect x="458" y="2495" width="9" height="743" fill="#000"/>
<rect x="675" y="2495" width="9" height="743" fill="#0000ff"/>
<rect x="824" y="2495" width="9" height="743" fill="#000"/>
<g font-size="34" text-anchor="end" fill="#595959">
<text x="209" y="2538">20%</text><text x="209" y="2617">15%</text><text x="209" y="2697">10%</text><text x="209" y="2776">5%</text><text x="209" y="2855">0%</text><text x="209" y="2934">-5%</text><text x="209" y="3013">-10%</text><text x="209" y="3092">-15%</text><text x="209" y="3171">-20%</text><text x="209" y="3250">-25%</text>
</g>
<g font-size="34" fill="#0000c0">
<text x="1084" y="2538">80</text><text x="1084" y="2657">70</text><text x="1084" y="2775">60</text><text x="1084" y="2894">50</text><text x="1084" y="3013">40</text><text x="1084" y="3131">30</text><text x="1084" y="3250">20</text>
</g>
<g font-size="32" fill="#404040">
<text transform="translate(297,2495) rotate(-90)">XLB</text><text transform="translate(369,2495) rotate(-90)">XLE</text><text transform="translate(441,2495) rotate(-90)">XLI</text><text transform="translate(513,2495) rotate(-90)">XLF</text><text transform="translate(585,2495) rotate(-90)">XLRE</text><text transform="translate(657,2495) rotate(-90)">XLU</text><text transform="translate(729,2495) rotate(-90)">XLK</text><text transform="translate(801,2495) rotate(-90)">XLC</text><text transform="translate(873,2495) rotate(-90)">XLP</text><text transform="translate(945,2495) rotate(-90)">XLY</text><text transform="translate(1017,2495) rotate(-90)">XLV</text>
</g>
<text transform="translate(105,2883) rotate(-90)" text-anchor="middle" font-size="30" fill="#595959">% Return This Week</text>
<text transform="translate(1146,2883) rotate(90)" text-anchor="middle" font-size="30" fill="#0000c0"># Stocks</text>
<g font-size="34" fill="#404040">
<rect x="261" y="3249" width="65" height="20" fill="#000"/><text x="336" y="3272">EqWtAvg</text>
<line x1="498" y1="3259" x2="571" y2="3259" stroke="#008000" stroke-width="3"/><circle cx="535" cy="3259" r="9" fill="#008000"/><text x="577" y="3272">Max</text>
<line x1="663" y1="3259" x2="732" y2="3259" stroke="#c00000" stroke-width="3"/><circle cx="698" cy="3259" r="9.5" fill="#c00000"/><text x="740" y="3272">Min</text>
<path d="M856 3246 l11 13 l-11 13 l-11 -13z" fill="#0000c0"/><text x="899" y="3272"># Stocks</text>
</g>

<!-- ================= PANEL 5 ================= -->
<rect x="2" y="3327" width="1250" height="937" fill="#fff" stroke="#000" stroke-width="4"/>
<rect x="24" y="3349" width="1196" height="895" fill="#fff" stroke="#d9d9d9" stroke-width="2"/>
<rect x="213" y="3483" width="961" height="696" fill="url(#plot)"/>
<g stroke="#d9d9d9" stroke-width="2">
<line x1="213" y1="3483.2" x2="1174" y2="3483.2"/><line x1="213" y1="3560.5" x2="1174" y2="3560.5"/><line x1="213" y1="3637.8" x2="1174" y2="3637.8"/><line x1="213" y1="3715.1" x2="1174" y2="3715.1"/><line x1="213" y1="3792.4" x2="1174" y2="3792.4"/><line x1="213" y1="3869.7" x2="1174" y2="3869.7"/><line x1="213" y1="3947" x2="1174" y2="3947"/><line x1="213" y1="4024.3" x2="1174" y2="4024.3"/><line x1="213" y1="4101.6" x2="1174" y2="4101.6"/><line x1="213" y1="4179" x2="1174" y2="4179"/>
<line x1="213" y1="3483" x2="213" y2="4179"/><line x1="277" y1="3483" x2="277" y2="4179"/><line x1="341" y1="3483" x2="341" y2="4179"/><line x1="405" y1="3483" x2="405" y2="4179"/><line x1="469" y1="3483" x2="469" y2="4179"/><line x1="533" y1="3483" x2="533" y2="4179"/><line x1="597" y1="3483" x2="597" y2="4179"/><line x1="661" y1="3483" x2="661" y2="4179"/><line x1="725" y1="3483" x2="725" y2="4179"/><line x1="789" y1="3483" x2="789" y2="4179"/><line x1="853" y1="3483" x2="853" y2="4179"/><line x1="917" y1="3483" x2="917" y2="4179"/><line x1="981" y1="3483" x2="981" y2="4179"/><line x1="1045" y1="3483" x2="1045" y2="4179"/><line x1="1109" y1="3483" x2="1109" y2="4179"/><line x1="1174" y1="3483" x2="1174" y2="4179"/>
</g>
<g fill="#c00000">
<rect x="219.5" y="3949" width="51" height="69.6"/><rect x="283.5" y="3949" width="51" height="54.1"/><rect x="347.5" y="3949" width="51" height="100.5"/><rect x="411.5" y="3949" width="51" height="7.7"/><rect x="475.5" y="3949" width="51" height="54.1"/><rect x="603.5" y="3949" width="51" height="162.3"/><rect x="667.5" y="3949" width="51" height="77.3"/><rect x="731.5" y="3949" width="51" height="34.8"/><rect x="859.5" y="3949" width="51" height="11.6"/><rect x="923.5" y="3949" width="51" height="131.4"/><rect x="987.5" y="3949" width="51" height="90.4"/><rect x="1051.5" y="3949" width="51" height="83.5"/><rect x="1115.5" y="3949" width="51" height="177.8"/>
</g>
<g fill="#006400"><rect x="539.5" y="3545" width="51" height="402"/><rect x="795.5" y="3854.2" width="51" height="92.8"/></g>
<g font-size="27" text-anchor="middle" fill="#404040">
<text x="245" y="4068">-0.9%</text><text x="310" y="4049">-0.7%</text><text x="374" y="4096">-1.3%</text><text x="434" y="4003">-0.1%</text><text x="503" y="4049">-0.7%</text><text x="567" y="3519">5.2%</text><text x="627" y="4156">-2.1%</text><text x="696" y="4072">-1.0%</text><text x="760" y="4030">-0.5%</text><text x="822" y="3829">1.2%</text><text x="885" y="4006">-0.2%</text><text x="949" y="4127">-1.7%</text><text x="1013" y="4088">-1.2%</text><text x="1085" y="4080">-1.1%</text><text x="1144" y="4172">-2.3%</text>
</g>
<rect x="466" y="3349" width="8" height="830" fill="#000"/>
<rect x="657" y="3436" width="8" height="743" fill="#000"/>
<rect x="850" y="3436" width="8" height="741" fill="#0000ff"/>
<rect x="980" y="3439" width="8" height="742" fill="#000"/>
<g font-size="34" text-anchor="end" fill="#595959">
<text x="173" y="3495">6%</text><text x="173" y="3573">5%</text><text x="173" y="3650">4%</text><text x="173" y="3727">3%</text><text x="173" y="3805">2%</text><text x="173" y="3882">1%</text><text x="173" y="3959">0%</text><text x="173" y="4037">-1%</text><text x="173" y="4114">-2%</text><text x="173" y="4191">-3%</text>
</g>
<g font-size="32" fill="#404040">
<text transform="translate(257,3454) rotate(-90)">SPY</text><text transform="translate(321,3454) rotate(-90)">QQQ</text><text transform="translate(385,3454) rotate(-90)">IWM</text><text transform="translate(449,3454) rotate(-90)">SMH</text><text transform="translate(513,3454) rotate(-90)">XLB</text><text transform="translate(577,3454) rotate(-90)">XLE</text><text transform="translate(641,3454) rotate(-90)">XLI</text><text transform="translate(705,3454) rotate(-90)">XLF</text><text transform="translate(769,3454) rotate(-90)">XLRE</text><text transform="translate(833,3454) rotate(-90)">XLU</text><text transform="translate(897,3454) rotate(-90)">XLK</text><text transform="translate(961,3454) rotate(-90)">XLC</text><text transform="translate(1025,3454) rotate(-90)">XLP</text><text transform="translate(1089,3454) rotate(-90)">XLY</text><text transform="translate(1153,3454) rotate(-90)">XLV</text>
</g>
<text transform="translate(90,3831) rotate(-90)" text-anchor="middle" font-size="30" fill="#595959">% Return This Week</text>
</svg>
</body></html>
